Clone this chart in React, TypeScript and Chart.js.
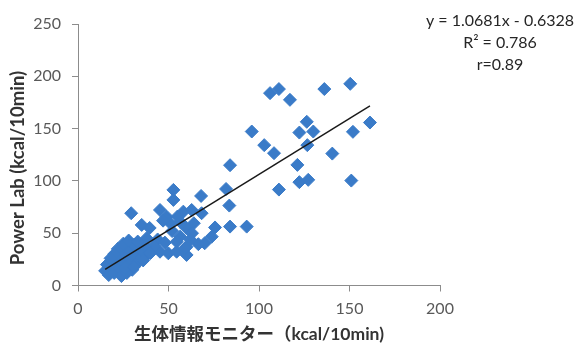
import React, { useEffect, useRef } from "react";
import { Chart, registerables } from "chart.js";

Chart.register(...registerables);

// 生体情報モニター estimate (kcal/10min)
const monitorKcal = [
  106.1, 111.0, 117.1, 136.1, 150.4, 161.3, 151.9, 126.4, 122.3, 130.0,
  126.7, 96.0, 102.9, 108.3, 140.5, 121.2, 84.0, 122.3, 127.2, 151.0,
  111.0, 81.8, 68.0, 83.6,
  84.0, 93.2, 52.7, 52.7, 29.4, 45.3, 58.2, 62.8, 68.3, 49.0,
  35.2, 39.6, 37.9, 56.4, 51.0, 59.8, 64.0, 56.4, 60.0, 75.7,
  73.9, 70.0, 66.5, 45.3, 49.9, 54.5, 60.0, 59.1, 54.5,
  47.0, 52.0, 55.0, 63.0, 44.0, 42.0, 48.0, 62.0,
  15, 17, 16, 18, 19, 20, 21, 22, 23, 24,
  25, 26, 27, 28, 29, 30, 31, 32, 33, 34,
  35, 36, 37, 38, 22, 20, 25, 28, 24, 30,
  27, 33, 18, 26, 31, 36, 40,
];

// Power Lab measurement (kcal/10min)
const powerLabKcal = [
  183.9, 187.8, 177.5, 187.8, 192.8, 155.8, 146.9, 156.5, 146.2, 147.2,
  134.2, 147.2, 134.2, 126.5, 126.1, 115.3, 115.0, 98.8, 101.0, 100.3,
  91.7, 92.3, 85.6, 76.4,
  56.3, 56.3, 91.4, 81.8, 69.1, 72.2, 70.6, 72.2, 69.1, 65.8,
  57.9, 55.0, 45.2, 61.0, 59.5, 55.0, 59.5, 46.7, 37.1, 55.5,
  46.7, 40.4, 39.5, 32.3, 30.8, 32.3, 29.2, 35.6, 41.9,
  62.0, 52.0, 66.0, 50.0, 44.0, 38.0, 41.0, 44.0,
  14, 10, 20, 17, 24, 12, 20, 27, 16, 31,
  22, 36, 28, 19, 33, 24, 39, 29, 22, 35,
  27, 32, 38, 29, 35, 30, 40, 43, 9, 15,
  12, 42, 26, 17, 18, 24, 31,
];

const xTicks = [0, 50, 100, 150, 200];
const yTicks = [0, 50, 100, 150, 200, 250];

// Least-squares fit reported on the chart
const slope = 1.0681;
const intercept = -0.6328;
const fitLines = ["y = 1.0681x - 0.6328", "R\u00B2 = 0.786", "r=0.89"];

const xTitle = "生体情報モニター（kcal/10min)";
const yTitle = "Power Lab (kcal/10min)";

const W = 578;
const H = 346;
const AXIS = "#8c8c8c";
const TICK_TEXT = "#595959";
const MARK = "#3a7bc8";
const FONT = "Lato, 'Noto Sans CJK JP', sans-serif";

const textPlugin = {
  id: "fitText",
  afterDraw(chart: any) {
    const { ctx, chartArea } = chart;
    ctx.save();
    ctx.textAlign = "center";
    ctx.textBaseline = "middle";
    ctx.fillStyle = "#262626";
    ctx.font = `16px ${FONT}`;
    fitLines.forEach((t, i) => ctx.fillText(t, 500, 21 + i * 22));

    ctx.fillStyle = "#333333";
    ctx.font = `bold 17.5px ${FONT}`;
    ctx.fillText(xTitle, (chartArea.left + chartArea.right) / 2, 334);
    ctx.font = `bold 18.5px ${FONT}`;
    ctx.translate(18, 168);
    ctx.rotate(-Math.PI / 2);
    ctx.fillText(yTitle, 0, 0);
    ctx.restore();
  },
};

export default function App() {
  const ref = useRef<HTMLCanvasElement | null>(null);

  useEffect(() => {
    if (!ref.current) return;
    const points = monitorKcal.map((x, i) => ({ x, y: powerLabKcal[i] }));
    const xMin = Math.min(...monitorKcal);
    const xMax = Math.max(...monitorKcal);
    const fit = [xMin, xMax].map((x) => ({ x, y: slope * x + intercept }));

    const chart = new Chart(ref.current, {
      type: "scatter",
      data: {
        datasets: [
          {
            type: "line",
            data: fit,
            borderColor: "#1a1a1a",
            borderWidth: 1.5,
            pointRadius: 0,
            fill: false,
            order: 0,
          } as any,
          {
            data: points,
            pointStyle: "rectRot",
            pointRadius: 6.5,
            backgroundColor: MARK,
            borderColor: MARK,
            borderWidth: 1,
            order: 1,
          },
        ],
      },
      options: {
        responsive: false,
        animation: false,
        devicePixelRatio: 1,
        layout: { padding: { top: 24, right: W - 440, left: 0, bottom: 0 } },
        plugins: { legend: { display: false }, tooltip: { enabled: false } },
        scales: {
          x: {
            type: "linear",
            min: 0,
            max: 200,
            afterBuildTicks: (s: any) => {
              s.ticks = xTicks.map((value) => ({ value }));
            },
            afterFit: (s: any) => {
              s.height = H - 285.5;
            },
            grid: { drawOnChartArea: false, drawTicks: true, tickLength: 6, color: AXIS },
            border: { color: AXIS, width: 1 },
            ticks: { color: TICK_TEXT, font: { family: FONT, size: 16 }, padding: 8 },
          },
          y: {
            type: "linear",
            min: 0,
            max: 250,
            afterBuildTicks: (s: any) => {
              s.ticks = yTicks.map((value) => ({ value }));
            },
            afterFit: (s: any) => {
              s.width = 78;
            },
            grid: { drawOnChartArea: false, drawTicks: true, tickLength: 6, color: AXIS },
            border: { color: AXIS, width: 1 },
            ticks: { color: TICK_TEXT, font: { family: FONT, size: 16 }, padding: 11 },
          },
        },
      },
      plugins: [textPlugin],
    });
    return () => chart.destroy();
  }, []);

  return (
    <div style={{ position: "fixed", left: 0, top: 0, width: W, height: H, background: "#fff" }}>
      <canvas ref={ref} width={W} height={H} style={{ display: "block" }} />
    </div>
  );
}
